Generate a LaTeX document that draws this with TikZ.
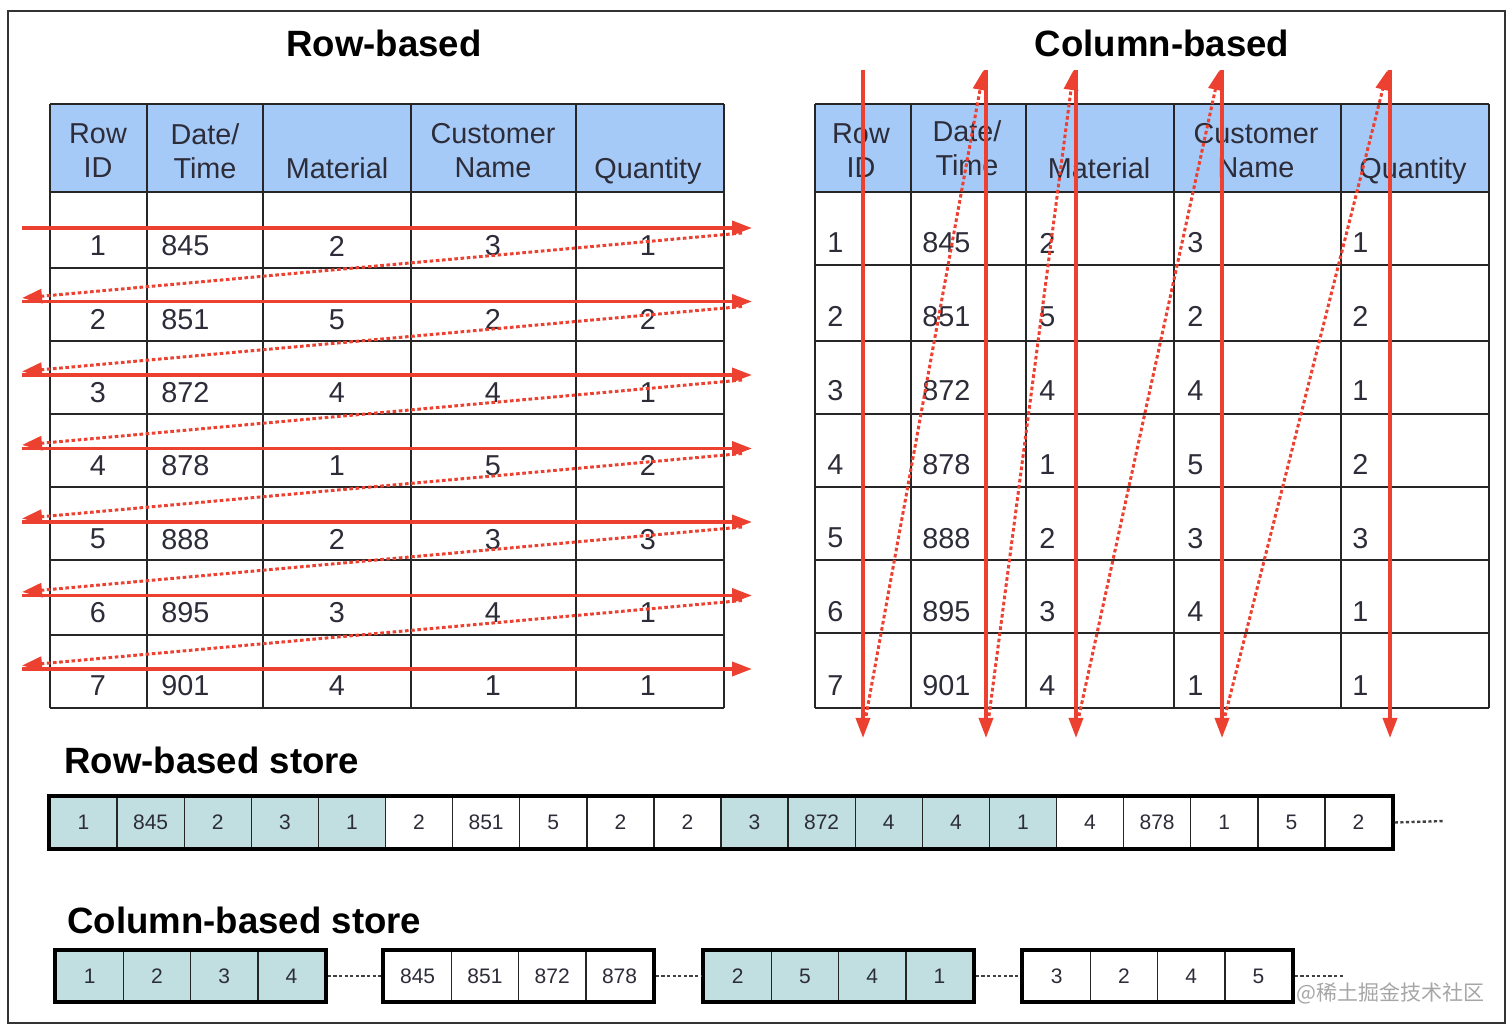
\documentclass[tikz,border=0pt]{standalone}
\usepackage{fontspec}
\setmainfont{Liberation Sans}
\newfontfamily\cjkfont{Noto Sans CJK SC}
\usetikzlibrary{positioning,arrows.meta}
\definecolor{headblue}{RGB}{166,202,248}
\definecolor{storeteal}{RGB}{193,222,225}
\definecolor{scanred}{RGB}{236,64,48}
\definecolor{inkgray}{RGB}{45,45,58}

\begin{document}
\begin{tikzpicture}[
    x=0.5pt, y=-0.5pt,
    title/.style={font=\fontsize{18.3}{22}\selectfont\bfseries, text=black, inner sep=0pt},
    head/.style={font=\fontsize{14.4}{17}\selectfont, align=center, text=inkgray, inner sep=0pt},
    val/.style={font=\fontsize{14.4}{17}\selectfont, text=inkgray, inner sep=0pt},
    tabline/.style={draw=black!85, line width=0.9pt},
    scan/.style={-{Triangle[length=10pt,width=7pt]}, line width=1.8pt, color=scanred},
    dscan/.style={-{Triangle[length=10pt,width=7pt]}, line width=1.5pt, dash pattern=on 1.8pt off 1.3pt, color=scanred},
    storecell/.style={draw=black!85, line width=0.7pt, minimum width=33.55pt, minimum height=25.5pt, inner sep=0pt, font=\fontsize{10.5}{12}\selectfont, text=inkgray},
    storeframe/.style={draw=black, line width=2pt},
    link/.style={dash pattern=on 1.6pt off 1.2pt, line width=1.2pt, color=black!75}
]
\useasboundingbox (0,0) rectangle (1512,1031);
\draw[draw=black!80, line width=1pt] (8,11) rectangle (1505,1023);

% Titles
\node[title] (rowtitle) at (384,43) {Row-based};
\node[title] (coltitle) at (1162,43) {Column-based};
\node[title, anchor=west] (rstitle) at (64,760) {Row-based store};
\node[title, anchor=west] (cstitle) at (67,920) {Column-based store};

% Row-based table
\fill[headblue] (50,104) rectangle (724,192);
\foreach \x in {50,147,263,411,576,724}
    \draw[tabline] (\x,104) -- (\x,708);
\foreach \y in {104,192,268,341,414,487,560,635,708}
    \draw[tabline] (50,\y) -- (724,\y);
\foreach \x/\y/\t [count=\c] in {98/151/{Row\\ID}, 205/151/{Date/\\Time}, 337/168/Material, 493/151/{Customer\\Name}, 648/171/Quantity}
    \node[head] (rh-\c) at (\x,\y) {\t};
\foreach \id/\dt/\mat/\cus/\qty [count=\r] in {1/845/2/3/1, 2/851/5/2/2, 3/872/4/4/1, 4/878/1/5/2, 5/888/2/3/3, 6/895/3/4/1, 7/901/4/1/1} {
    \node[val] (rid-\r) at (98,{246+73.3*(\r-1)}) {\id};
    \node[val, anchor=west] (rdt-\r) at (161,{246+73.3*(\r-1)}) {\dt};
    \node[val] (rmat-\r) at (337,{246+73.3*(\r-1)}) {\mat};
    \node[val] (rcus-\r) at (493,{246+73.3*(\r-1)}) {\cus};
    \node[val] (rqty-\r) at (648,{246+73.3*(\r-1)}) {\qty};
}

% Column-based table
\fill[headblue] (815,104) rectangle (1489,192);
\foreach \x in {815,911,1026,1174,1341,1489}
    \draw[tabline] (\x,104) -- (\x,708);
\foreach \y in {104,192,265,341,414,487,560,633,708}
    \draw[tabline] (815,\y) -- (1489,\y);
\foreach \x/\y/\t [count=\c] in {861/151/{Row\\ID}, 967/148/{Date/\\Time}, 1099/168/Material, 1256/151/{Customer\\Name}, 1413/171/Quantity}
    \node[head] (ch-\c) at (\x,\y) {\t};
\foreach \id/\dt/\mat/\cus/\qty [count=\r] in {1/845/2/3/1, 2/851/5/2/2, 3/872/4/4/1, 4/878/1/5/2, 5/888/2/3/3, 6/895/3/4/1, 7/901/4/1/1} {
    \node[val, anchor=west] (cid-\r) at (827,{243+73.8*(\r-1)}) {\id};
    \node[val, anchor=west] (cdt-\r) at (922,{243+73.8*(\r-1)}) {\dt};
    \node[val, anchor=west] (cmat-\r) at (1039,{243+73.8*(\r-1)}) {\mat};
    \node[val, anchor=west] (ccus-\r) at (1187,{243+73.8*(\r-1)}) {\cus};
    \node[val, anchor=west] (cqty-\r) at (1352,{243+73.8*(\r-1)}) {\qty};
}

% Row scan arrows
\foreach \i in {1,...,7} {
    \coordinate (rowA-\i) at (22,{228+73.5*(\i-1)});
    \coordinate (rowB-\i) at (752,{228+73.5*(\i-1)});
    \draw[scan] (rowA-\i) -- (rowB-\i);
}
\foreach \i in {1,...,6} {
    \coordinate (rowC-\i) at (742,{233+73.5*(\i-1)});
    \coordinate (rowD-\i) at (22,{298+73.5*(\i-1)});
    \draw[dscan] (rowC-\i) -- (rowD-\i);
}

% Column scan arrows
\foreach \x [count=\k] in {863,986,1076,1222,1390} {
    \coordinate (colT-\k) at (\x,70);
    \coordinate (colB-\k) at (\x,738);
    \coordinate (colD-\k) at (\x+3,716);
    \draw[scan] (colT-\k) -- (colB-\k);
}
\foreach \k [evaluate=\k as \n using int(\k+1)] in {1,...,4}
    \draw[dscan] (colD-\k) -- ([xshift=-1.2pt]colT-\n);

% Row-based store
\foreach \f/\vals [count=\g from 0] in {storeteal/{1,845,2,3,1}, white/{2,851,5,2,2}, storeteal/{3,872,4,4,1}, white/{4,878,1,5,2}}
    \foreach \v [count=\c] in \vals
        \node[storecell, fill=\f] (rs-\g-\c) at ({50+67.1*(5*\g+\c-0.5)},822.5) {\v};
\draw[storeframe] (rs-0-1.north west) rectangle (rs-3-5.south east);
\coordinate (rstail) at (1445,821);
\draw[link] ([xshift=1pt]rs-3-5.east) -- (rstail);

% Column-based store
\foreach \f/\x/\vals [count=\g] in {storeteal/56/{1,2,3,4}, white/384/{845,851,872,878}, storeteal/704/{2,5,4,1}, white/1023/{3,2,4,5}} {
    \foreach \v [count=\c] in \vals
        \node[storecell, fill=\f] (cs-\g-\c) at ({\x+67.3*(\c-0.5)},976) {\v};
    \draw[storeframe] (cs-\g-1.north west) rectangle (cs-\g-4.south east);
}
\foreach \g [evaluate=\g as \n using int(\g+1)] in {1,2,3}
    \draw[link] ([xshift=1pt]cs-\g-4.east) -- ([xshift=-1pt]cs-\n-1.west);
\coordinate (cstail) at (1345,976);
\draw[link] ([xshift=1pt]cs-4-4.east) -- (cstail);

\node[font=\cjkfont\fontsize{10.5}{12}\selectfont, text=black!35, anchor=east, inner sep=0pt] (mark) at (1485,993) {@稀土掘金技术社区};
\end{tikzpicture}
\end{document}
